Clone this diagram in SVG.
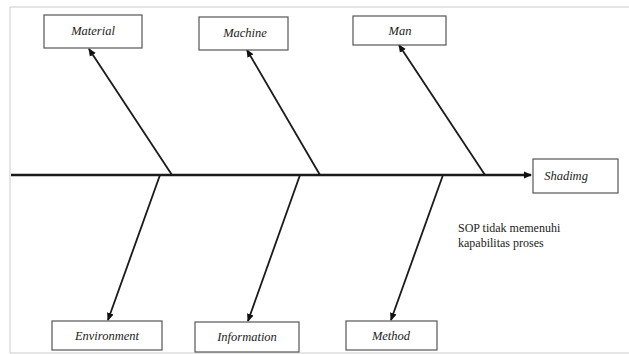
<svg xmlns="http://www.w3.org/2000/svg" width="629" height="354" viewBox="0 0 629 354">
<defs>
<marker id="ah" markerWidth="8" markerHeight="8" refX="7" refY="4" orient="auto" markerUnits="userSpaceOnUse">
<path d="M0,0.5 L8,4 L0,7.5 Z" fill="#111"/>
</marker>
<style>
.box{fill:#fff;stroke:#555;stroke-width:1.2}
.lbl{font-family:"Liberation Serif",serif;font-style:italic;font-size:12.5px;fill:#222;text-anchor:middle}
.br{stroke:#1a1a1a;stroke-width:1.8;fill:none}
.note{font-family:"Liberation Serif",serif;font-size:12px;fill:#222}
</style>
</defs>
<rect width="629" height="354" fill="#fff"/>
<path d="M10,353 L10,7 L629,7" fill="none" stroke="#ccc" stroke-width="1"/>
<line x1="10" y1="353" x2="629" y2="353" stroke="#ccc" stroke-width="1"/>
<g id="connectors">
<line x1="11" y1="175" x2="531" y2="175" stroke="#1a1a1a" stroke-width="2.5" marker-end="url(#ah)"/>
<line class="br" x1="172" y1="175" x2="89" y2="49" marker-end="url(#ah)"/>
<line class="br" x1="320" y1="175" x2="247" y2="50" marker-end="url(#ah)"/>
<line class="br" x1="485" y1="175" x2="399" y2="45" marker-end="url(#ah)"/>
<line class="br" x1="160" y1="175" x2="108" y2="320" marker-end="url(#ah)"/>
<line class="br" x1="300" y1="175" x2="248" y2="321" marker-end="url(#ah)"/>
<line class="br" x1="443" y1="175" x2="391" y2="320" marker-end="url(#ah)"/>
</g>
<g id="material"><rect class="box" x="44" y="15" width="98" height="33"/><text class="lbl" x="93" y="35">Material</text></g>
<g id="machine"><rect class="box" x="199" y="17" width="89" height="33"/><text class="lbl" x="245" y="37">Machine</text></g>
<g id="man"><rect class="box" x="353" y="16" width="93" height="29"/><text class="lbl" x="400" y="35">Man</text></g>
<g id="shading"><rect class="box" x="533" y="159" width="85" height="34"/><text class="lbl" x="566" y="180">Shadimg</text></g>
<g id="environment"><rect class="box" x="52" y="321" width="110" height="29"/><text class="lbl" x="107" y="340">Environment</text></g>
<g id="information"><rect class="box" x="195" y="322" width="104" height="30"/><text class="lbl" x="247" y="341">Information</text></g>
<g id="method"><rect class="box" x="346" y="321" width="91" height="29"/><text class="lbl" x="391" y="340">Method</text></g>
<g id="note"><text class="note" x="458" y="232">SOP tidak memenuhi</text><text class="note" x="458" y="247">kapabilitas proses</text></g>
</svg>
